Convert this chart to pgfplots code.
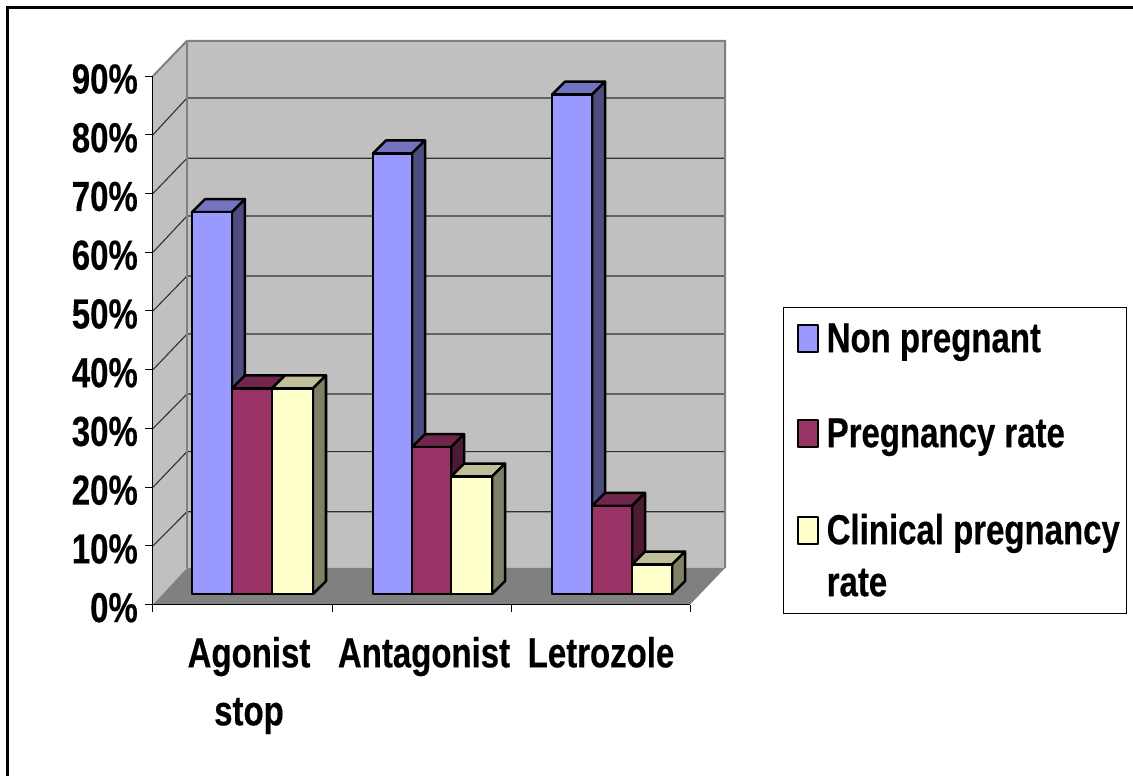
\documentclass[border=0pt]{standalone}
\usepackage{pgfplots}
\usepackage{fontspec}
\setmainfont[FakeStretch=0.785,BoldFeatures={FakeBold=0.35}]{Liberation Sans}
\pgfplotsset{compat=1.18}
\definecolor{wallc}{HTML}{C0C0C0}
\definecolor{floorc}{HTML}{808080}
\definecolor{gridc}{HTML}{303030}
\definecolor{bluef}{HTML}{9999FF}
\definecolor{bluet}{HTML}{7373BF}
\definecolor{blues}{HTML}{4D4D80}
\definecolor{redf}{HTML}{993366}
\definecolor{redt}{HTML}{73264D}
\definecolor{reds}{HTML}{4D1A33}
\definecolor{yelf}{HTML}{FFFFCC}
\definecolor{yelt}{HTML}{BFBF99}
\definecolor{yels}{HTML}{808066}
\newcommand{\bigfont}{\fontsize{42}{52}\selectfont\bfseries}
% x0, x1 (pixels along the axis), value, colour stem, extra key for front face
\newcommand{\threedbar}[5]{%
  \pgfmathsetmacro{\ytop}{#3+1.82}%
  \pgfmathsetmacro{\ybak}{#3+1.82+2.21}%
  \pgfmathsetmacro{\xa}{#1+13}%
  \pgfmathsetmacro{\xb}{#2+13}%
  \addplot[draw=black,line width=2.5pt,line join=round,fill=#4t,forget plot] coordinates {(#1,\ytop)(\xa,\ybak)(\xb,\ybak)(#2,\ytop)} -- cycle;
  \addplot[draw=black,line width=2.5pt,line join=round,fill=#4s,forget plot] coordinates {(#2,1.82)(\xb,4.03)(\xb,\ybak)(#2,\ytop)} -- cycle;
  \addplot[draw=black,line width=2.5pt,line join=round,fill=#4f,#5] coordinates {(#1,1.82)(#2,1.82)(#2,\ytop)(#1,\ytop)} -- cycle;
}
\pgfplotsset{swatch/.style={legend image code/.code={\path[draw=black,line width=2pt,fill=#1] (0pt,0pt) rectangle (19.5pt,27pt);}}}
\begin{document}
\begin{tikzpicture}
\path[use as bounding box] (-153pt,-171.3pt) rectangle (980pt,604.7pt);
\begin{axis}[
  scale only axis, width=572pt, height=565.4pt,
  xmin=153, xmax=725, ymin=0, ymax=96.25,
  clip=false,
  axis x line*=bottom, axis y line*=left,
  axis line style={draw=none},
  xtick={153,332,511,690}, xticklabels={,,,},
  ytick={0,10,20,30,40,50,60,70,80,90},
  yticklabels={0\%,10\%,20\%,30\%,40\%,50\%,60\%,70\%,80\%,90\%},
  tick style={draw=black,line width=1pt},
  major tick length=7.5pt,
  tick align=outside,
  yticklabel style={font=\bigfont,inner sep=0pt,xshift=-7.5pt,yshift=-3pt},
  extra x ticks={249,424,601},
  extra x tick labels={{Agonist\\stop},{Antagonist},{Letrozole}},
  extra x tick style={major tick length=0pt,tick style={draw=none},
    xticklabel style={font=\fontsize{42}{58}\selectfont\bfseries,align=center,inner sep=0pt,yshift=-32pt}},
  legend style={at={(axis cs:782.7,50.73)},anchor=north west,draw=black,line width=1pt,
    inner xsep=14pt,inner ysep=0pt,font=\bigfont,
    nodes={inner sep=0pt},cells={anchor=base west},
    /tikz/column 1/.style={column sep=8pt}},
]
% walls and floor
\addplot[fill=wallc,draw=none,forget plot] coordinates {(187,6.25)(725,6.25)(725,96)(187,96)} -- cycle;
\addplot[fill=wallc,draw=none,forget plot] coordinates {(153,0)(187,6.25)(187,96)(153,90)} -- cycle;
\addplot[fill=floorc,draw=none,forget plot] coordinates {(153,0)(690,0)(725,6.25)(187,6.25)} -- cycle;
% gridlines
\addplot[draw=gridc,line width=1.1pt,forget plot] coordinates {(153,10)(187,15.83)(725,15.83)};
\addplot[draw=gridc,line width=1.1pt,forget plot] coordinates {(153,20)(187,26.05)(725,26.05)};
\addplot[draw=gridc,line width=1.1pt,forget plot] coordinates {(153,30)(187,35.87)(725,35.87)};
\addplot[draw=gridc,line width=1.1pt,forget plot] coordinates {(153,40)(187,46.08)(725,46.08)};
\addplot[draw=gridc,line width=1.1pt,forget plot] coordinates {(153,50)(187,55.96)(725,55.96)};
\addplot[draw=gridc,line width=1.1pt,forget plot] coordinates {(153,60)(187,66.17)(725,66.17)};
\addplot[draw=gridc,line width=1.1pt,forget plot] coordinates {(153,70)(187,76)(725,76)};
\addplot[draw=gridc,line width=1.1pt,forget plot] coordinates {(153,80)(187,86.26)(725,86.26)};
% wall edges
\addplot[draw=floorc,line width=2pt,forget plot] coordinates {(153,90)(187,96)(725,96)(725,6.25)};
\addplot[draw=floorc,line width=2pt,forget plot] coordinates {(187,96)(187,6.25)};
% front axis lines
\addplot[draw=black,line width=1pt,forget plot] coordinates {(153,90)(153,0)(690,0)};
% bars
\threedbar{192}{232}{65}{blue}{swatch=bluef}
\threedbar{232}{272}{35}{red}{swatch=redf}
\threedbar{272}{313}{35}{yel}{swatch=yelf}
\threedbar{373}{412}{75}{blue}{forget plot}
\threedbar{412}{451}{25}{red}{forget plot}
\threedbar{451}{492}{20}{yel}{forget plot}
\threedbar{552}{592}{85}{blue}{forget plot}
\threedbar{592}{632}{15}{red}{forget plot}
\threedbar{632}{672}{5}{yel}{forget plot}
\addlegendentry{\makebox[286pt][l]{\rule{0pt}{45pt}Non pregnant}}
\addlegendentry{\makebox[286pt][l]{\rule{0pt}{93.5pt}Pregnancy rate}}
\addlegendentry{\parbox[t]{286pt}{\rule{0pt}{95.5pt}\mbox{Clinical pregnancy}\\rate}}
\addlegendimage{empty legend}
\addlegendentry{\rule{0pt}{66pt}}
\end{axis}
\draw[black,line width=3pt] (-145pt,-171.3pt) -- (-145pt,597pt) -- (980pt,597pt);
\end{tikzpicture}
\end{document}
